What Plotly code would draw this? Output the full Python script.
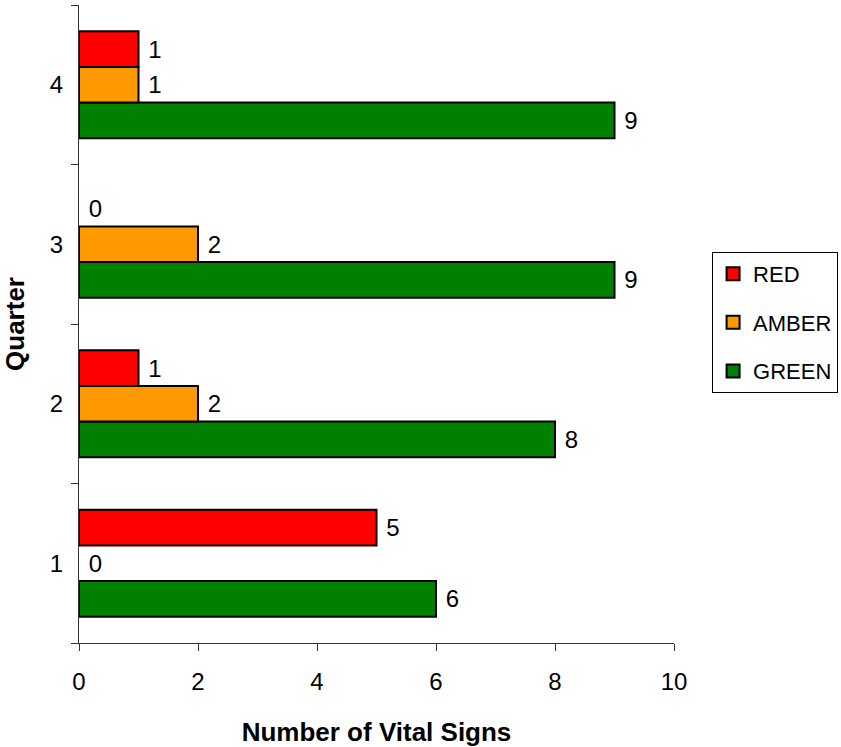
import plotly.graph_objects as go

# Quarterly count of vital signs by RAG status
quarters = ["1", "2", "3", "4"]
green_counts = [6, 8, 9, 9]
amber_counts = [0, 2, 2, 1]
red_counts = [5, 1, 0, 1]

# (name, values, colour, legend rank)
series = [
    ("GREEN", green_counts, "#008000", 3),
    ("AMBER", amber_counts, "#FF9900", 2),
    ("RED", red_counts, "#FF0000", 1),
]

FONT = "Liberation Sans, Arial, sans-serif"

fig = go.Figure()
for name, values, color, rank in series:
    # empty bars get no outline so nothing is drawn on the axis
    outline = [2 if v > 0 else 0 for v in values]
    fig.add_trace(go.Bar(
        y=quarters,
        x=values,
        name=name,
        orientation="h",
        legendgroup=name,
        showlegend=False,
        marker=dict(color=color, line=dict(color="#000000", width=outline)),
        text=values,
        texttemplate="\u00a0%{x}",
        textposition="outside",
        textfont=dict(family=FONT, size=24, color="#000000"),
        cliponaxis=False,
    ))
    # legend key: outlined square swatch
    fig.add_trace(go.Scatter(
        x=[None],
        y=[None],
        mode="markers",
        name=name,
        legendgroup=name,
        legendrank=rank,
        marker=dict(symbol="square", size=13, color=color,
                    line=dict(color="#000000", width=2)),
        hoverinfo="skip",
    ))

fig.update_layout(
    width=841,
    height=747,
    barmode="group",
    bargap=0.33,
    bargroupgap=0,
    plot_bgcolor="#FFFFFF",
    paper_bgcolor="#FFFFFF",
    font=dict(family=FONT, size=24, color="#000000"),
    margin=dict(l=79, r=167, t=5, b=104, autoexpand=False),
    showlegend=True,
    legend=dict(
        x=1.064, y=0.613, xanchor="left", yanchor="top",
        traceorder="grouped",
        tracegroupgap=17,
        bordercolor="#000000", borderwidth=1,
        font=dict(family=FONT, size=22, color="#000000"),
        bgcolor="#FFFFFF",
    ),
)

fig.update_xaxes(
    range=[0, 10],
    dtick=2,
    showgrid=False,
    zeroline=False,
    showline=True,
    linecolor="#333333",
    linewidth=1,
    ticks="outside",
    ticklen=7,
    tickcolor="#333333",
    ticklabelstandoff=10,
    tickfont=dict(family=FONT, size=24),
    title=dict(text="Number of Vital Signs", standoff=30,
               font=dict(family=FONT, size=26, weight="bold")),
)

fig.update_yaxes(
    type="category",
    categoryorder="array",
    categoryarray=quarters,
    range=[-0.5, 3.5],
    showgrid=False,
    zeroline=False,
    showline=True,
    linecolor="#333333",
    linewidth=1,
    ticks="outside",
    tickson="boundaries",
    ticklen=7,
    tickcolor="#333333",
    ticklabelstandoff=10,
    tickfont=dict(family=FONT, size=24),
    title=dict(text="Quarter", standoff=18,
               font=dict(family=FONT, size=26, weight="bold")),
)

fig.write_html("out.html")
